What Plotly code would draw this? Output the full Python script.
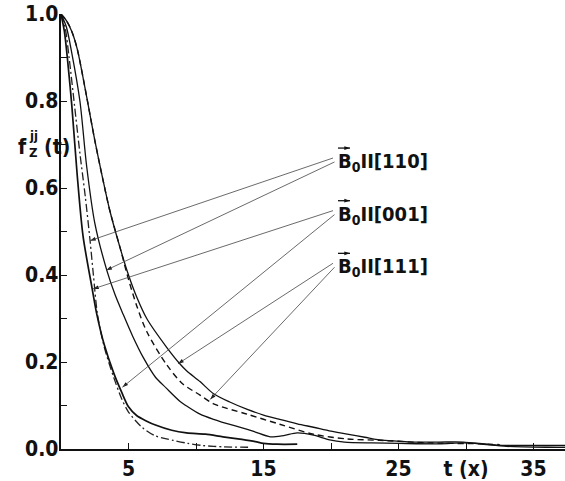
import math
import plotly.graph_objects as go

# ---- data ----
t_steep = [0, 0.25, 0.5, 0.8, 1.2, 1.63, 2.3, 2.65, 3.2, 3.9, 4.5, 5.0, 5.6, 6.35, 7.0, 8.2, 9.3, 10.7, 12.0, 13.4, 14.4, 15.0, 16.0, 17.5]
f_steep = [1.0, 0.96, 0.89, 0.79, 0.63, 0.49, 0.37, 0.31, 0.24, 0.175, 0.13, 0.097, 0.077, 0.064, 0.055, 0.043, 0.037, 0.034, 0.028, 0.022, 0.017, 0.013, 0.011, 0.011]

t_dashdot = [0, 0.3, 0.6, 1.0, 1.4, 1.8, 2.15, 2.4, 2.7, 3.2, 3.9, 4.5, 5.0, 6.0, 7.0, 8.3, 9.4, 10.5, 12.0, 14.0]
f_dashdot = [1.0, 0.97, 0.9, 0.79, 0.68, 0.58, 0.48, 0.40, 0.31, 0.235, 0.165, 0.115, 0.085, 0.05, 0.03, 0.02, 0.013, 0.008, 0.005, 0.004]

t_middle = [0, 0.4, 0.8, 1.4, 1.9, 2.5, 3.4, 4.0, 4.6, 5.3, 6.1, 7.0, 7.8, 8.8, 9.4, 10.3, 11.3, 11.9, 13.8, 14.4, 15.5, 16.5, 17.5, 18.7, 19.9, 21.0, 23.0, 25.0, 28.0, 29.8, 31.0, 33.0, 36.0, 38.0]
f_middle = [1.0, 0.97, 0.91, 0.80, 0.65, 0.52, 0.41, 0.355, 0.31, 0.26, 0.21, 0.165, 0.14, 0.11, 0.097, 0.08, 0.068, 0.062, 0.045, 0.039, 0.028, 0.031, 0.037, 0.032, 0.021, 0.016, 0.014, 0.013, 0.012, 0.014, 0.012, 0.006, 0.004, 0.004]

t_outer = [0, 0.4, 0.8, 1.2, 1.9, 2.5, 3.1, 3.6, 4.4, 5.0, 5.6, 6.35, 7.8, 8.8, 9.3, 10.3, 11.3, 12.5, 13.8, 15.0, 16.2, 17.5, 18.7, 20.0, 21.2, 22.5, 23.6, 25.0, 26.0, 28.0, 29.8, 31.0, 32.3, 35.0, 38.0]
f_outer = [1.0, 0.985, 0.96, 0.92, 0.81, 0.71, 0.62, 0.55, 0.46, 0.40, 0.35, 0.30, 0.235, 0.196, 0.18, 0.155, 0.127, 0.108, 0.091, 0.078, 0.068, 0.058, 0.05, 0.041, 0.034, 0.027, 0.021, 0.018, 0.016, 0.016, 0.016, 0.013, 0.009, 0.008, 0.008]

t_dashed = [0, 0.4, 0.8, 1.2, 1.9, 2.5, 3.1, 3.6, 4.4, 5.0, 5.6, 6.35, 7.8, 9.0, 10.3, 11.3, 13.8, 16.2, 18.7, 21.2, 23.6, 27.3, 31.0, 32.5]
f_dashed = [1.0, 0.985, 0.96, 0.92, 0.81, 0.71, 0.62, 0.55, 0.46, 0.39, 0.33, 0.27, 0.195, 0.15, 0.124, 0.104, 0.08, 0.057, 0.034, 0.023, 0.02, 0.014, 0.012, 0.01]

x_tickvals = [5, 15, 25, 30, 35]
x_ticktext = ["5", "15", "25", "t (x)", "35"]
x_minor = [10, 20]
y_tickvals = [0, 0.2, 0.4, 0.6, 0.8, 1.0]
y_ticktext = ["0.0", "0.2", "0.4", "0.6", "0.8", "1.0"]
y_minor = [0.1, 0.3, 0.5, 0.7, 0.9]

labels = ["B<sub>0</sub>II[110]", "B<sub>0</sub>II[001]", "B<sub>0</sub>II[111]"]
# pointer targets (t, f) for each label: two per label
ptr_t = [[2.15, 3.35], [2.37, 4.55], [8.67, 11.05]]
ptr_f = [[0.479, 0.411], [0.368, 0.142], [0.196, 0.114]]

# ---- layout helpers ----
L, T, W, H = 61, 14, 504, 438
PXU = 13.5
XMAX = W / PXU
def PX(px):   # pixel -> paper x
    return (px - L) / W
def PY(py):   # pixel -> paper y
    return (T + H - py) / H

FONT = "DejaVu Sans Condensed, Liberation Sans Narrow, DejaVu Sans, sans-serif"
INK = "#111"

fig = go.Figure()
fig.add_trace(go.Scatter(x=t_dashdot, y=f_dashdot, mode="lines",
                         line=dict(color="#222", width=1.3, dash="8px,3px,2px,3px", shape="spline", smoothing=0.8)))
fig.add_trace(go.Scatter(x=t_steep, y=f_steep, mode="lines",
                         line=dict(color=INK, width=1.7, shape="spline", smoothing=0.8)))
fig.add_trace(go.Scatter(x=t_middle, y=f_middle, mode="lines",
                         line=dict(color=INK, width=1.3, shape="spline", smoothing=0.8)))
fig.add_trace(go.Scatter(x=t_dashed, y=f_dashed, mode="lines",
                         line=dict(color=INK, width=1.4, dash="6px,4px", shape="spline", smoothing=0.8)))
fig.add_trace(go.Scatter(x=t_outer, y=f_outer, mode="lines",
                         line=dict(color=INK, width=1.3, shape="spline", smoothing=0.8)))

annotations = []
shapes = []
head_x, head_y, head_ang = [], [], []
label_y = [160, 213, 266]
for i, lab in enumerate(labels):
    cy = label_y[i]
    annotations.append(dict(x=PX(336), y=PY(cy + 3), xref="paper", yref="paper", text=lab,
                            showarrow=False, xanchor="left", yanchor="middle",
                            font=dict(family=FONT, size=20, color=INK, weight="bold")))
    # vector arrow over B
    ay_px = cy - 11
    shapes.append(dict(type="line", xref="paper", yref="paper",
                       x0=PX(338), y0=PY(ay_px), x1=PX(350), y1=PY(ay_px),
                       line=dict(color=INK, width=1.3)))
    head_x.append((350 - L) / PXU); head_y.append(PY(ay_px)); head_ang.append(90)
    for j in range(2):
        sx, sy = 333 + 1.5 * j, cy - 1 + 4 * j
        ex = L + ptr_t[i][j] * PXU
        ey = T + H - ptr_f[i][j] * H
        shapes.append(dict(type="line", xref="paper", yref="paper",
                           x0=PX(sx), y0=PY(sy), x1=PX(ex), y1=PY(ey),
                           line=dict(color="#444", width=0.8)))
        head_x.append(ptr_t[i][j]); head_y.append(ptr_f[i][j])
        head_ang.append(math.degrees(math.atan2(ex - sx, -(ey - sy))))

fig.add_trace(go.Scatter(x=head_x, y=head_y, mode="markers", cliponaxis=False,
                         marker=dict(symbol="arrow", size=6, angle=head_ang, color=INK,
                                     line=dict(width=0))))

# y tick labels placed close to the axis (values from the y scale)
for v, s in zip(y_tickvals, y_ticktext):
    annotations.append(dict(x=PX(60), y=v, xref="paper", yref="y", text=s,
                            showarrow=False, xanchor="right", yanchor="middle",
                            font=dict(family=FONT, size=21, color=INK, weight="bold")))

# y-axis title f_Z^jj(t)
annotations += [
    dict(x=PX(16), y=PY(134), xref="paper", yref="paper", text="f", showarrow=False,
         font=dict(family=FONT, size=21, color=INK, weight="bold")),
    dict(x=PX(27), y=PY(127), xref="paper", yref="paper", text="jj", showarrow=False,
         font=dict(family=FONT, size=13, color=INK, weight="bold")),
    dict(x=PX(27), y=PY(144), xref="paper", yref="paper", text="Z", showarrow=False,
         font=dict(family=FONT, size=13, color=INK, weight="bold")),
    dict(x=PX(42), y=PY(134), xref="paper", yref="paper", text="(t)", showarrow=False,
         font=dict(family=FONT, size=21, color=INK, weight="bold")),
]

fig.update_layout(
    width=565, height=481,
    margin=dict(l=L, r=565 - L - W, t=T, b=481 - T - H),
    paper_bgcolor="white", plot_bgcolor="white",
    showlegend=False,
    annotations=annotations,
    shapes=shapes,
    font=dict(family=FONT, size=20, color=INK, weight="bold"),
)
fig.update_xaxes(range=[0, XMAX], showline=True, linecolor=INK, linewidth=1.6,
                 ticks="inside", ticklen=6, tickwidth=1.2, tickcolor=INK,
                 tickvals=x_tickvals, ticktext=x_ticktext, showgrid=False, zeroline=False,
                 minor=dict(tickmode="array", tickvals=x_minor, ticks="inside", ticklen=6,
                            tickwidth=1.2, tickcolor=INK, showgrid=False),
                 tickfont=dict(family=FONT, size=21, color=INK, weight="bold"))
fig.update_yaxes(range=[0, 1.0], showline=True, linecolor=INK, linewidth=1.6,
                 ticks="inside", ticklen=6, tickwidth=1.2, tickcolor=INK,
                 tickvals=y_tickvals, showticklabels=False, showgrid=False, zeroline=False,
                 minor=dict(tickmode="array", tickvals=y_minor, ticks="inside", ticklen=6,
                            tickwidth=1.2, tickcolor=INK, showgrid=False))

fig.write_html("out.html")
